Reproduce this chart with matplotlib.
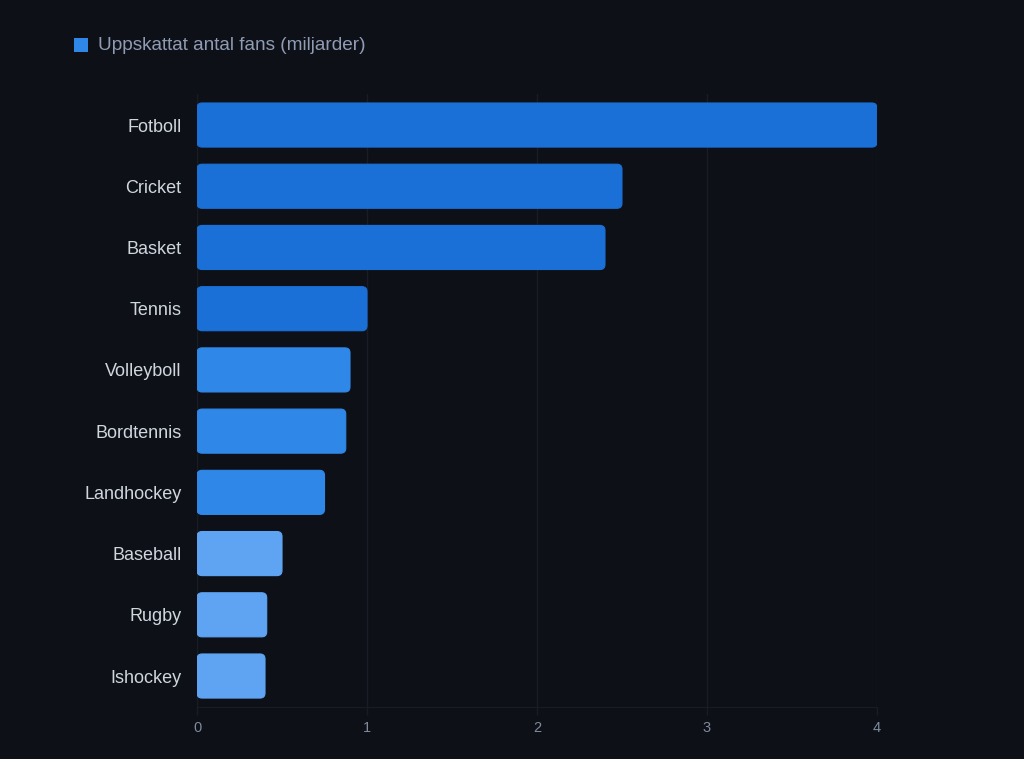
import matplotlib
matplotlib.use("Agg")
import matplotlib.pyplot as plt
from matplotlib.patches import FancyBboxPatch, Rectangle

sports = ["Fotboll", "Cricket", "Basket", "Tennis", "Volleyboll", "Bordtennis",
          "Landhockey", "Baseball", "Rugby", "Ishockey"]
fans = [4.0, 2.5, 2.4, 1.0, 0.9, 0.875, 0.75, 0.5, 0.41, 0.4]
bar_colors = ["#1a70d6", "#1a70d6", "#1a70d6", "#1a70d6",
              "#2f88e8", "#2f88e8", "#2f88e8",
              "#5fa4f2", "#5fa4f2", "#5fa4f2"]
legend_label = "Uppskattat antal fans (miljarder)"
xticks = [0, 1, 2, 3, 4]

plt.rcParams['font.family'] = ['Liberation Sans', 'DejaVu Sans']
bg = "#0d1017"
fig = plt.figure(figsize=(10.24, 7.59), dpi=100, facecolor=bg)
ax = fig.add_axes([0.1924, 0.069, 0.664, 0.8066], facecolor=bg)

ypos = list(range(len(sports)))
bars = ax.barh(ypos, fans, height=0.72, color=bar_colors)
ax.set_xlim(0, 4)
ax.set_ylim(len(sports) - 0.5, -0.5)

# Replace rectangles with rounded versions
px_per_x = 680 / 4.0
px_per_y = 612.2 / len(sports)
aspect = px_per_x / px_per_y
r = 5.0 / px_per_x
for b in bars:
    x0, y0 = b.get_x(), b.get_y()
    w, h = b.get_width(), b.get_height()
    c = b.get_facecolor()
    b.set_visible(False)
    p = FancyBboxPatch((x0, y0), w, h,
                       boxstyle=f"round,pad=0,rounding_size={r}",
                       mutation_aspect=aspect,
                       facecolor=c, edgecolor=c, linewidth=0.8, zorder=3)
    ax.add_patch(p)

ax.set_xticks(xticks)
ax.set_xticklabels([str(t) for t in xticks])
ax.set_yticks(ypos)
ax.set_yticklabels(sports)
ax.grid(axis='x', color="#181d25", linewidth=1, zorder=0)
ax.tick_params(axis='x', colors="#7f8a9b", labelsize=10.5, length=6, width=1,
               color="#181d25", pad=4)
ax.tick_params(axis='y', colors="#d0d6de", labelsize=13, length=0, pad=11)
for s in ["top", "right"]:
    ax.spines[s].set_visible(False)
ax.spines["left"].set_color("#181d25")
ax.spines["bottom"].set_color("#181d25")

# Legend
fig.patches.append(Rectangle((74 / 1024, 1 - 52 / 759), 14 / 1024, 14 / 759,
                             transform=fig.transFigure, facecolor="#2f88e8",
                             edgecolor="none"))
fig.text(98 / 1024, 1 - 45 / 759, legend_label, color="#909cb4", fontsize=13.7,
         va='center', ha='left')

fig.savefig("out.png", dpi=100, facecolor=bg)
